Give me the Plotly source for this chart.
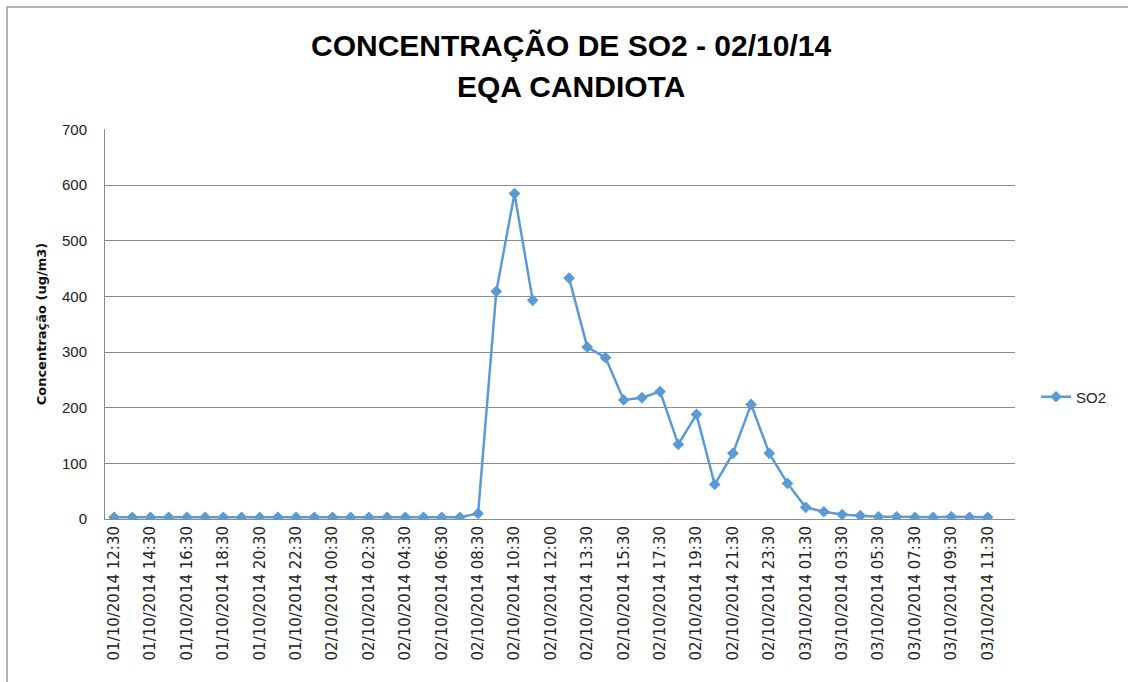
import plotly.graph_objects as go

# Hourly sampling times (one extra 12:00 reading on 02/10)
horarios = [
    "01/10/2014 12:30", "01/10/2014 13:30", "01/10/2014 14:30", "01/10/2014 15:30",
    "01/10/2014 16:30", "01/10/2014 17:30", "01/10/2014 18:30", "01/10/2014 19:30",
    "01/10/2014 20:30", "01/10/2014 21:30", "01/10/2014 22:30", "01/10/2014 23:30",
    "02/10/2014 00:30", "02/10/2014 01:30", "02/10/2014 02:30", "02/10/2014 03:30",
    "02/10/2014 04:30", "02/10/2014 05:30", "02/10/2014 06:30", "02/10/2014 07:30",
    "02/10/2014 08:30", "02/10/2014 09:30", "02/10/2014 10:30", "02/10/2014 11:30",
    "02/10/2014 12:00", "02/10/2014 12:30", "02/10/2014 13:30", "02/10/2014 14:30",
    "02/10/2014 15:30", "02/10/2014 16:30", "02/10/2014 17:30", "02/10/2014 18:30",
    "02/10/2014 19:30", "02/10/2014 20:30", "02/10/2014 21:30", "02/10/2014 22:30",
    "02/10/2014 23:30", "03/10/2014 00:30", "03/10/2014 01:30", "03/10/2014 02:30",
    "03/10/2014 03:30", "03/10/2014 04:30", "03/10/2014 05:30", "03/10/2014 06:30",
    "03/10/2014 07:30", "03/10/2014 08:30", "03/10/2014 09:30", "03/10/2014 10:30",
    "03/10/2014 11:30",
]

# SO2 concentration (ug/m3); None = missing reading
so2 = [
    3, 3, 3, 3, 3, 3, 3, 3, 3, 3, 3, 3,
    3, 3, 3, 3, 3, 3, 3, 3,
    10, 409, 585, 393, None, 433, 309, 290,
    214, 218, 229, 134, 188, 62, 118, 206,
    118, 64, 21, 13, 8, 6, 4, 4,
    3, 3, 4, 3, 3,
]

# Every second time is labelled on the axis
rotulos = horarios[::2]

y_ticks = [0, 100, 200, 300, 400, 500, 600, 700]

titulo = ["CONCENTRAÇÃO DE SO2 - 02/10/14", "EQA CANDIOTA"]

azul = "#5B9BD5"
grade = "#8C8C8C"

fig = go.Figure()
fig.add_trace(go.Scatter(
    x=horarios,
    y=so2,
    mode="lines+markers",
    name="SO2",
    connectgaps=False,
    line=dict(color=azul, width=2.5),
    marker=dict(symbol="diamond", size=9, color=azul),
))

L, R, T, B = 105, 1015, 129, 519
W, H = 1128, 682


def py(pix):
    """Page pixel row -> paper y coordinate."""
    return (B - pix) / (B - T)


def px(pix):
    """Page pixel column -> paper x coordinate."""
    return (pix - L) / (R - L)


fig.update_layout(
    width=W,
    height=H,
    margin=dict(l=L, r=W - R, t=T, b=H - B, pad=0),
    paper_bgcolor="white",
    plot_bgcolor="white",
    font=dict(family="Liberation Sans, Arial, sans-serif", color="#222222", size=13),
    showlegend=True,
    legend=dict(
        x=px(1036),
        y=py(397),
        xanchor="left",
        yanchor="middle",
        font=dict(size=15, color="#222222"),
        bgcolor="rgba(0,0,0,0)",
        itemwidth=30,
    ),
    xaxis=dict(
        type="category",
        categoryorder="array",
        categoryarray=horarios,
        tickmode="array",
        tickvals=rotulos,
        ticktext=rotulos,
        tickangle=-90,
        tickfont=dict(size=15, color="#222222", family="DejaVu Sans, sans-serif"),
        range=[-0.5, 49.5],
        showgrid=False,
        showline=True,
        linecolor=grade,
        linewidth=1,
        ticks="",
        ticklen=0,
        zeroline=False,
    ),
    yaxis=dict(
        range=[0, 701],
        tickmode="array",
        tickvals=y_ticks,
        tickfont=dict(size=15, color="#222222"),
        showgrid=True,
        gridcolor=grade,
        gridwidth=1,
        showline=True,
        linecolor=grade,
        linewidth=1,
        zeroline=False,
        ticks="",
        ticklabelstandoff=14,
        title=dict(
            text="<b>Concentração (ug/m3)</b>",
            font=dict(size=13, color="#111111", family="DejaVu Sans, sans-serif"),
            standoff=12,
        ),
    ),
)

# Two-line chart title
for texto, centro in zip(titulo, [45, 87]):
    fig.add_annotation(
        text=f"<b>{texto}</b>",
        xref="paper", yref="paper",
        x=px(571), y=py(centro),
        xanchor="center", yanchor="middle",
        showarrow=False,
        font=dict(size=30, color="#000000", family="Liberation Sans, Arial, sans-serif"),
    )

# Chart-area border
fig.add_shape(
    type="rect",
    xref="paper", yref="paper",
    x0=px(7), x1=px(1132),
    y0=py(690), y1=py(7),
    line=dict(color="#9A9A9A", width=1.5),
    fillcolor="rgba(0,0,0,0)",
    layer="below",
)

fig.write_html("out.html")
